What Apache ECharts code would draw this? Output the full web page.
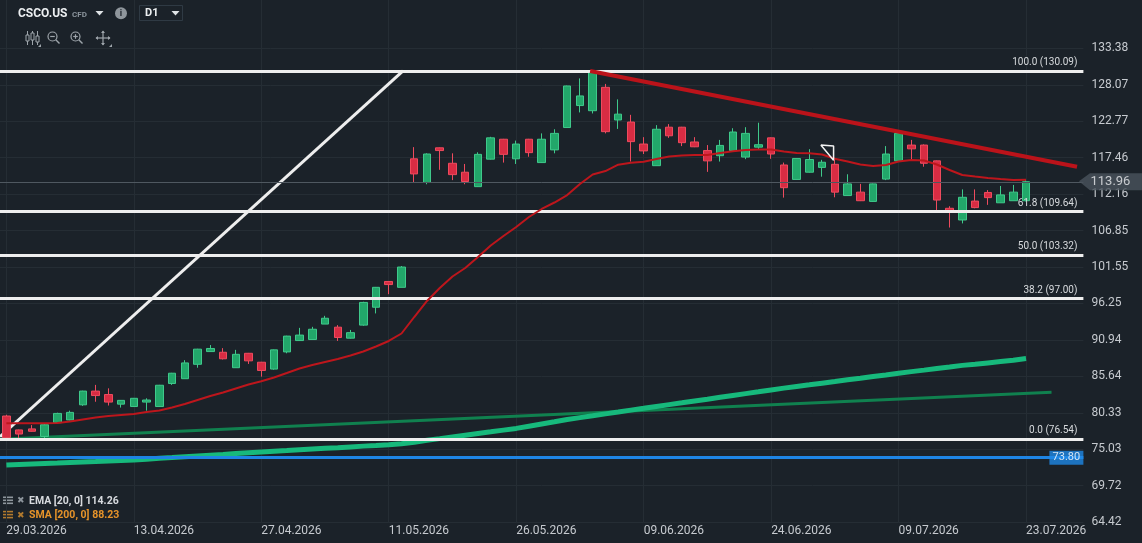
<!DOCTYPE html>
<html>
<head>
<meta charset="utf-8">
<title>CSCO.US D1</title>
<script src="https://cdn.jsdelivr.net/npm/echarts@6/dist/echarts.min.js"></script>
<style>
  html, body { margin: 0; padding: 0; background: #1b2229; }
  #main { width: 1142px; height: 543px; }
</style>
</head>
<body>
<div id="main"></div>
<script>
// daily bars, one per trading day
var dates = [
  '29.03.2026', '30.03.2026', '31.03.2026', '01.04.2026', '02.04.2026', '06.04.2026', '07.04.2026', '08.04.2026', '09.04.2026', '10.04.2026',
  '13.04.2026', '14.04.2026', '15.04.2026', '16.04.2026', '17.04.2026', '20.04.2026', '21.04.2026', '22.04.2026', '23.04.2026', '24.04.2026',
  '27.04.2026', '28.04.2026', '29.04.2026', '30.04.2026', '01.05.2026', '04.05.2026', '05.05.2026', '06.05.2026', '07.05.2026', '08.05.2026',
  '11.05.2026', '12.05.2026', '13.05.2026', '14.05.2026', '15.05.2026', '18.05.2026', '19.05.2026', '20.05.2026', '21.05.2026', '22.05.2026',
  '26.05.2026', '27.05.2026', '28.05.2026', '29.05.2026', '01.06.2026', '02.06.2026', '03.06.2026', '04.06.2026', '05.06.2026', '08.06.2026',
  '09.06.2026', '10.06.2026', '11.06.2026', '12.06.2026', '15.06.2026', '16.06.2026', '17.06.2026', '18.06.2026', '22.06.2026', '23.06.2026',
  '24.06.2026', '25.06.2026', '26.06.2026', '29.06.2026', '30.06.2026', '01.07.2026', '02.07.2026', '06.07.2026', '07.07.2026', '08.07.2026',
  '09.07.2026', '10.07.2026', '13.07.2026', '14.07.2026', '15.07.2026', '16.07.2026', '17.07.2026', '20.07.2026', '21.07.2026', '22.07.2026',
  '23.07.2026'
];

// [open, close, low, high]
var candles = [
  [79.87, 76.71, 76.54, 80.05], [77.85, 77.25, 76.60, 77.90], [78.00, 77.65, 77.60, 78.55], [76.90, 78.60, 76.60, 78.70],
  [78.90, 80.25, 78.90, 80.35], [79.30, 80.40, 79.25, 80.65], [81.50, 83.50, 81.35, 83.55], [83.50, 82.85, 81.95, 84.40],
  [83.00, 81.90, 81.40, 83.90], [81.60, 82.15, 81.10, 82.20], [81.25, 82.45, 81.20, 82.50], [81.90, 82.20, 80.65, 82.45],
  [81.25, 84.35, 81.20, 84.40], [84.60, 86.10, 84.40, 86.15], [85.30, 87.60, 85.30, 88.00], [87.40, 89.60, 86.90, 89.65],
  [89.25, 89.70, 89.20, 90.20], [89.15, 88.20, 88.10, 89.75], [86.90, 88.85, 86.90, 89.50], [89.00, 87.90, 87.45, 89.05],
  [87.70, 86.50, 85.60, 87.75], [86.70, 89.50, 86.60, 89.55], [89.20, 91.50, 89.00, 91.55], [90.85, 91.65, 90.80, 92.70],
  [91.00, 92.50, 91.00, 92.85], [93.25, 94.10, 93.25, 94.45], [92.80, 91.30, 90.80, 93.10], [91.20, 92.00, 91.15, 92.40],
  [93.10, 96.40, 93.00, 96.50], [95.70, 98.60, 94.80, 98.65], [99.45, 99.00, 97.60, 99.50], [98.60, 101.55, 98.60, 101.70],
  [117.30, 115.10, 113.80, 119.00], [113.85, 118.00, 113.60, 118.10], [118.90, 118.50, 115.70, 118.95], [116.65, 115.00, 114.20, 118.10],
  [115.35, 114.00, 113.60, 116.55], [113.25, 117.95, 113.20, 118.25], [117.25, 120.35, 117.20, 120.50], [120.15, 117.95, 116.75, 120.20],
  [117.30, 119.45, 116.55, 119.95], [120.15, 118.20, 117.60, 120.20], [116.75, 120.15, 116.70, 121.00], [118.60, 121.00, 118.10, 121.60],
  [121.85, 127.90, 121.80, 127.95], [125.05, 126.45, 124.05, 129.00], [124.30, 130.00, 123.90, 130.09], [127.70, 121.25, 121.00, 128.20],
  [122.95, 123.80, 121.65, 125.95], [122.65, 119.80, 116.90, 123.70], [119.45, 118.45, 118.00, 120.45], [116.30, 121.60, 116.30, 122.20],
  [121.90, 120.65, 120.35, 122.35], [121.90, 119.65, 119.15, 121.95], [119.75, 119.05, 119.00, 120.45], [118.50, 117.00, 115.40, 119.30],
  [117.75, 119.25, 116.90, 120.05], [118.50, 121.20, 118.45, 121.75], [117.55, 121.00, 117.25, 121.90], [119.00, 119.35, 118.60, 122.55],
  [120.35, 118.00, 117.30, 120.40], [116.40, 113.10, 111.65, 116.75], [114.30, 117.35, 114.30, 117.40], [115.35, 117.20, 115.30, 118.70],
  [116.05, 116.80, 114.70, 117.15], [116.50, 112.45, 111.70, 117.15], [111.95, 113.65, 111.90, 115.05], [112.45, 111.20, 111.15, 113.65],
  [111.10, 113.65, 111.05, 113.70], [114.35, 118.00, 114.20, 119.15], [117.00, 121.00, 117.00, 121.25], [119.30, 118.75, 117.25, 120.05],
  [119.30, 116.65, 116.15, 119.40], [117.00, 111.30, 109.85, 117.05], [110.10, 109.60, 107.30, 110.40], [108.40, 111.70, 107.90, 112.85],
  [111.15, 110.20, 110.10, 112.85], [112.40, 111.65, 110.60, 112.75], [110.90, 112.05, 110.90, 113.35], [111.20, 112.45, 111.20, 113.50],
  [111.20, 113.96, 111.10, 114.20]
];

var ema20 = [
  78.81, 78.81, 78.81, 78.81, 78.85, 79.07, 79.36, 79.65, 79.87, 80.02,
  80.16, 80.45, 80.67, 81.11, 81.62, 82.20, 82.78, 83.29, 83.88, 84.46,
  84.92, 85.48, 86.13, 86.79, 87.29, 87.73, 88.17, 88.68, 89.26, 89.99,
  90.79, 91.88, 94.28, 96.61, 98.50, 100.17, 101.41, 103.01, 104.68, 106.07,
  107.38, 108.83, 110.00, 110.94, 112.03, 113.63, 115.02, 115.52, 116.44, 116.73,
  116.88, 117.27, 117.63, 117.78, 117.85, 117.85, 118.14, 118.39, 118.58, 118.65,
  118.65, 118.36, 118.14, 118.10, 117.93, 117.30, 116.91, 116.47, 116.25, 116.40,
  116.91, 117.13, 117.05, 116.47, 115.67, 114.94, 114.72, 114.51, 114.36, 114.22,
  114.26
];

var sma200 = [
  72.74, 72.82, 72.89, 72.96, 73.03, 73.11, 73.18, 73.25, 73.33, 73.40,
  73.47, 73.59, 73.72, 73.83, 73.95, 74.07, 74.18, 74.28, 74.40, 74.52,
  74.63, 74.74, 74.84, 74.95, 75.06, 75.17, 75.27, 75.38, 75.49, 75.59,
  75.70, 75.83, 76.06, 76.34, 76.58, 76.83, 77.08, 77.33, 77.57, 77.82,
  78.07, 78.39, 78.71, 79.03, 79.36, 79.64, 79.90, 80.18, 80.45, 80.73,
  80.99, 81.27, 81.53, 81.79, 82.06, 82.32, 82.59, 82.86, 83.13, 83.39,
  83.67, 83.93, 84.18, 84.41, 84.65, 84.89, 85.14, 85.37, 85.62, 85.85,
  86.10, 86.33, 86.55, 86.79, 87.00, 87.24, 87.41, 87.60, 87.79, 87.98,
  88.23
];

var yTicks = ['64.42', '69.72', '75.03', '80.33', '85.64', '90.94', '96.25', '101.55',
  '106.85', '112.16', '117.46', '122.77', '128.07', '133.38'];

var fibLevels = [130.09, 109.64, 103.32, 97.00, 76.54];
var fibNames = ['100.0', '61.8', '50.0', '38.2', '0.0'];
var supportLevel = 73.80;

// drawn objects, [bar index, price]
var riseLine = [[-0.5, 76.86], [31.12, 130.09]];
var fallLine = [[45.8, 130.09], [84.0, 116.15]];
var baseLine = [[-0.5, 76.48], [82.0, 83.32]];
var markTriangle = [[63.9, 119.3], [64.9, 119.15], [64.9, 117.1], [63.9, 119.3]];

var lastPrice = candles[candles.length - 1][1];

var bg = '#1b2229';
var gridCol = '#252d34';
var textCol = '#c6cacf';

var yGridColors = [];
for (var k = 0; k < 16; k++) yGridColors.push(k < 14 ? gridCol : 'transparent');
var xGridColors = ['transparent'];
for (var k2 = 0; k2 < 9; k2++) xGridColors.push(gridCol);
xGridColors.push('transparent');

var myChart = echarts.init(document.getElementById('main'), null, { renderer: 'canvas' });

function pairs(arr) {
  return arr.map(function (v, i) { return [i, v]; });
}

var option = {
  backgroundColor: bg,
  animation: false,
  textStyle: { fontFamily: 'Roboto' },
  grid: { left: 0, top: 0, width: 1083.4, height: 522.2, outerBoundsMode: 'none' },
  xAxis: {
    type: 'value',
    min: -0.5,
    max: 84.5,
    splitNumber: 9,
    minInterval: 10,
    maxInterval: 10,
    axisLine: { show: false },
    axisTick: { show: false },
    splitLine: { lineStyle: { color: xGridColors, width: 1 } },
    axisLabel: {
      color: textCol,
      fontSize: 12,
      align: 'left',
      margin: 3,
      formatter: function (v) {
        return (v >= 0 && v % 10 === 0 && dates[v]) ? dates[v] : '';
      }
    }
  },
  yAxis: {
    type: 'value',
    position: 'right',
    min: 64.42,
    max: 140.41,
    interval: (133.38 - 64.42) / 13,
    axisLine: { show: false },
    axisTick: { show: false },
    splitLine: { lineStyle: { color: yGridColors, width: 1 } },
    axisLabel: {
      color: textCol,
      fontSize: 12,
      margin: 8,
      formatter: function (v, idx) { return yTicks[idx] || ''; }
    }
  },
  series: [
    {
      // fibo retracement + price levels
      type: 'line',
      name: 'levels',
      data: riseLine,
      symbol: 'none',
      z: 1,
      lineStyle: { color: '#eeeeee', width: 3 },
      markLine: {
        silent: true,
        symbol: ['none', 'none'],
        animation: false,
        data: fibLevels.map(function (v, i) {
          return {
            yAxis: v,
            lineStyle: { color: '#eeeeee', width: 3, type: 'solid' },
            label: {
              show: true,
              position: 'insideEndTop',
              distance: [6, 3],
              color: '#d8dbde',
              fontSize: 10,
              formatter: fibNames[i] + ' (' + v.toFixed(2) + ')'
            }
          };
        }).concat([
          {
            yAxis: supportLevel,
            lineStyle: { color: '#1e84e3', width: 3, type: 'solid' },
            label: { show: false }
          },
          {
            yAxis: lastPrice,
            lineStyle: { color: '#4f5860', width: 1, type: 'solid' },
            label: { show: false }
          }
        ])
      }
    },
    {
      type: 'line',
      name: 'base',
      data: baseLine,
      symbol: 'none',
      z: 2,
      lineStyle: { color: '#10814f', width: 3 }
    },
    {
      type: 'line',
      name: 'SMA [200, 0]',
      data: pairs(sma200),
      symbol: 'none',
      z: 3,
      lineStyle: { color: '#17b97c', width: 5 }
    },
    {
      type: 'candlestick',
      name: 'CSCO.US',
      data: candles.map(function (d, i) { return [i, d[0], d[1], d[2], d[3]]; }),
      encode: { x: 0, y: [1, 2, 3, 4] },
      barWidth: 8,
      z: 4,
      itemStyle: {
        color: '#22a76a',
        color0: '#d82c43',
        borderColor: '#3fc98b',
        borderColor0: '#ee4b5e',
        borderWidth: 1
      }
    },
    {
      type: 'line',
      name: 'EMA [20, 0]',
      data: pairs(ema20),
      symbol: 'none',
      z: 5,
      lineStyle: { color: '#bd161c', width: 2 }
    },
    {
      type: 'line',
      name: 'trend',
      data: fallLine,
      symbol: 'none',
      z: 5,
      lineStyle: { color: '#bb131a', width: 4 }
    },
    {
      type: 'line',
      name: 'mark',
      data: markTriangle,
      symbol: 'none',
      z: 6,
      lineStyle: { color: '#f2f2f2', width: 1.5 }
    },
    {
      type: 'scatter',
      name: 'tags',
      clip: false,
      z: 10,
      silent: true,
      data: [
        {
          value: [84.5, supportLevel],
          symbol: 'rect',
          symbolSize: [34, 14],
          symbolOffset: [-17, 0],
          itemStyle: { color: '#1e88e5' },
          label: { show: true, position: 'inside', color: '#ffffff', fontSize: 11, formatter: supportLevel.toFixed(2) }
        },
        {
          value: [84.15, lastPrice],
          symbol: 'path://M0,8 L11,0 L63,0 L63,17 L11,17 Z',
          symbolSize: [63, 17],
          symbolOffset: [31.5, 0],
          symbolKeepAspect: false,
          itemStyle: { color: '#4a545c' },
          label: { show: true, position: 'inside', color: '#e9ebed', fontSize: 13, formatter: lastPrice.toFixed(2) }
        }
      ]
    }
  ],
  graphic: [
    // header
    { type: 'text', style: { text: 'CSCO.US', x: 18, y: 14, fill: '#eceff1', font: 'bold 12px Roboto', verticalAlign: 'middle' } },
    { type: 'text', style: { text: 'CFD', x: 72, y: 14.5, fill: '#8c959d', font: 'bold 8px Roboto', verticalAlign: 'middle' } },
    { type: 'polygon', shape: { points: [[95.5, 11], [103.5, 11], [99.5, 15.5]] }, style: { fill: '#dfe3e6' } },
    { type: 'circle', shape: { cx: 121, cy: 13.3, r: 6 }, style: { fill: '#8f969c' } },
    { type: 'text', style: { text: 'i', x: 121, y: 13.5, fill: bg, font: 'bold 9px Roboto', align: 'center', verticalAlign: 'middle' } },
    { type: 'rect', shape: { x: 139.5, y: 5.5, width: 43, height: 15 }, style: { fill: 'none', stroke: '#2f3a44', lineWidth: 1 } },
    { type: 'text', style: { text: 'D1', x: 145, y: 13.5, fill: '#eceff1', font: 'bold 11px Roboto', verticalAlign: 'middle' } },
    { type: 'polygon', shape: { points: [[171.5, 11], [179.5, 11], [175.5, 15.5]] }, style: { fill: '#dfe3e6' } },

    // toolbar
    { type: 'line', shape: { x1: 27.5, y1: 31, x2: 27.5, y2: 45 }, style: { stroke: '#9ea5ab', lineWidth: 1 } },
    { type: 'rect', shape: { x: 26, y: 35, width: 3, height: 6 }, style: { fill: bg, stroke: '#9ea5ab', lineWidth: 1 } },
    { type: 'line', shape: { x1: 32.5, y1: 31, x2: 32.5, y2: 45 }, style: { stroke: '#9ea5ab', lineWidth: 1 } },
    { type: 'rect', shape: { x: 31, y: 33, width: 3, height: 7 }, style: { fill: bg, stroke: '#9ea5ab', lineWidth: 1 } },
    { type: 'line', shape: { x1: 37.5, y1: 31, x2: 37.5, y2: 45 }, style: { stroke: '#9ea5ab', lineWidth: 1 } },
    { type: 'rect', shape: { x: 36, y: 36, width: 3, height: 6 }, style: { fill: bg, stroke: '#9ea5ab', lineWidth: 1 } },
    { type: 'polygon', shape: { points: [[41, 44], [41, 47], [38, 47]] }, style: { fill: '#9ea5ab' } },
    { type: 'circle', shape: { cx: 52.5, cy: 36.5, r: 4.5 }, style: { fill: 'none', stroke: '#9ea5ab', lineWidth: 1.2 } },
    { type: 'line', shape: { x1: 55.8, y1: 39.8, x2: 59.5, y2: 43.5 }, style: { stroke: '#9ea5ab', lineWidth: 1.4 } },
    { type: 'line', shape: { x1: 50.2, y1: 36.5, x2: 54.8, y2: 36.5 }, style: { stroke: '#9ea5ab', lineWidth: 1.2 } },
    { type: 'circle', shape: { cx: 75.5, cy: 36.5, r: 4.5 }, style: { fill: 'none', stroke: '#9ea5ab', lineWidth: 1.2 } },
    { type: 'line', shape: { x1: 78.8, y1: 39.8, x2: 82.5, y2: 43.5 }, style: { stroke: '#9ea5ab', lineWidth: 1.4 } },
    { type: 'line', shape: { x1: 73.2, y1: 36.5, x2: 77.8, y2: 36.5 }, style: { stroke: '#9ea5ab', lineWidth: 1.2 } },
    { type: 'line', shape: { x1: 75.5, y1: 34.2, x2: 75.5, y2: 38.8 }, style: { stroke: '#9ea5ab', lineWidth: 1.2 } },
    { type: 'line', shape: { x1: 96, y1: 38, x2: 110, y2: 38 }, style: { stroke: '#9ea5ab', lineWidth: 1.2 } },
    { type: 'line', shape: { x1: 103, y1: 31, x2: 103, y2: 45 }, style: { stroke: '#9ea5ab', lineWidth: 1.2 } },
    { type: 'polygon', shape: { points: [[101, 33], [105, 33], [103, 30.5]] }, style: { fill: '#9ea5ab' } },
    { type: 'polygon', shape: { points: [[101, 43], [105, 43], [103, 45.5]] }, style: { fill: '#9ea5ab' } },
    { type: 'polygon', shape: { points: [[98, 36], [98, 40], [95.5, 38]] }, style: { fill: '#9ea5ab' } },
    { type: 'polygon', shape: { points: [[108, 36], [108, 40], [110.5, 38]] }, style: { fill: '#9ea5ab' } },
    { type: 'polygon', shape: { points: [[112, 44], [112, 47], [109, 47]] }, style: { fill: '#9ea5ab' } },

    // indicator legend
    { type: 'rect', shape: { x: 3, y: 496.5, width: 10, height: 1.6 }, style: { fill: '#8e969d' } },
    { type: 'rect', shape: { x: 3, y: 499.5, width: 10, height: 1.6 }, style: { fill: '#8e969d' } },
    { type: 'rect', shape: { x: 3, y: 502.5, width: 10, height: 1.6 }, style: { fill: '#8e969d' } },
    { type: 'text', style: { text: '\u2716', x: 17, y: 501, fill: '#8e969d', font: '9px "DejaVu Sans"', verticalAlign: 'middle' } },
    { type: 'text', style: { text: 'EMA [20, 0] ' + ema20[ema20.length - 1].toFixed(2), x: 29, y: 501, fill: '#d7dade', font: 'bold 10.5px Roboto', verticalAlign: 'middle' } },
    { type: 'rect', shape: { x: 3, y: 510.8, width: 10, height: 1.6 }, style: { fill: '#b27a2e' } },
    { type: 'rect', shape: { x: 3, y: 513.8, width: 10, height: 1.6 }, style: { fill: '#b27a2e' } },
    { type: 'rect', shape: { x: 3, y: 516.8, width: 10, height: 1.6 }, style: { fill: '#b27a2e' } },
    { type: 'text', style: { text: '\u2716', x: 17, y: 515.3, fill: '#b27a2e', font: '9px "DejaVu Sans"', verticalAlign: 'middle' } },
    { type: 'text', style: { text: 'SMA [200, 0] ' + sma200[sma200.length - 1].toFixed(2), x: 29, y: 515.3, fill: '#e5932a', font: 'bold 10.5px Roboto', verticalAlign: 'middle' } }
  ]
};

myChart.setOption(option);
</script>
</body>
</html>
